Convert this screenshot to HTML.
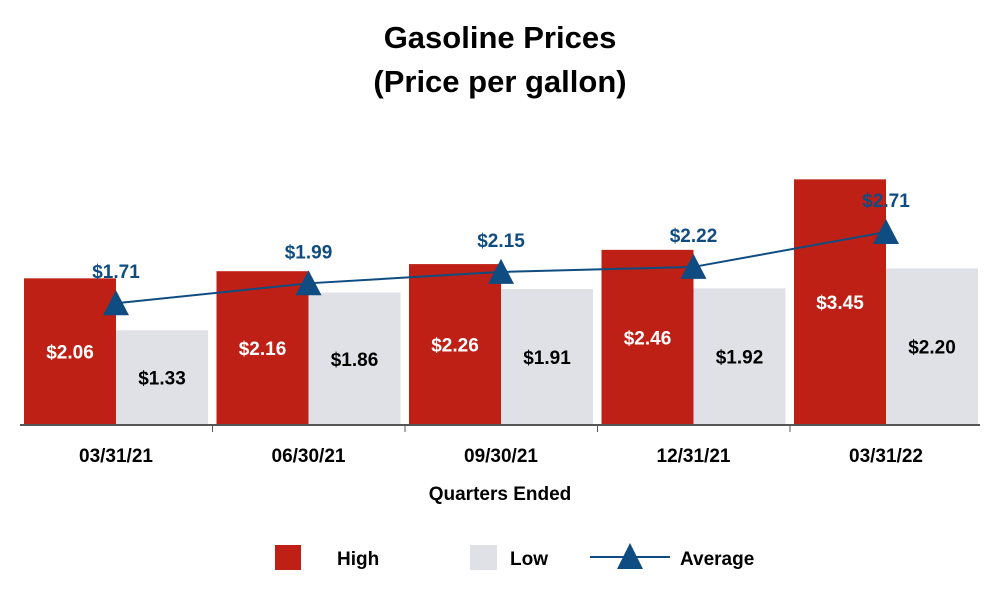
<!DOCTYPE html>
<html><head><meta charset="utf-8"><style>
body{margin:0;background:#fff;font-family:"Liberation Sans",sans-serif}
</style></head><body>
<svg id="c" width="1000" height="600" font-family="Liberation Sans, sans-serif" font-weight="bold">
<text x="500" y="48" text-anchor="middle" font-size="31">Gasoline Prices</text>
<text x="500" y="92" text-anchor="middle" font-size="31">(Price per gallon)</text>
<g id="bars"></g>
<line x1="20" y1="425" x2="980" y2="425" stroke="#555" stroke-width="2"/>
<text x="500" y="500" text-anchor="middle" font-size="19">Quarters Ended</text>
<g>
<rect x="275" y="545" width="26" height="25" fill="#be2016"/>
<text x="337" y="565" font-size="19">High</text>
<rect x="470" y="545" width="27" height="25" fill="#e0e1e6"/>
<text x="510" y="565" font-size="19">Low</text>
<line x1="590" y1="557" x2="670" y2="557" stroke="#0f4c81" stroke-width="2"/>
<polygon points="630,543 643,569 617,569" fill="#0f4c81"/>
<text x="680" y="565" font-size="19">Average</text>
</g>
</svg>
<script>
const categories=["03/31/21","06/30/21","09/30/21","12/31/21","03/31/22"];
const highValues=[2.06,2.16,2.26,2.46,3.45];
const lowValues=[1.33,1.86,1.91,1.92,2.20];
const avgValues=[1.71,1.99,2.15,2.22,2.71];
const NS="http://www.w3.org/2000/svg";
const g=document.getElementById('bars');
const base=425,scale=71.2,x0=24,groupW=192.5,barW=92;
const y=v=>base-v*scale;
const gx=i=>x0+i*groupW;
function mk(tag,attrs,txt){const e=document.createElementNS(NS,tag);for(const k in attrs)e.setAttribute(k,attrs[k]);if(txt!==undefined)e.textContent=txt;g.appendChild(e);return e;}
categories.forEach((c,i)=>{
 const hx=gx(i);
 let e=mk('rect',{x:hx,y:y(highValues[i]),width:barW,height:highValues[i]*scale,fill:'#be2016'});
 
 
 e=mk('rect',{x:hx+barW,y:y(lowValues[i]),width:barW,height:lowValues[i]*scale,fill:'#e0e1e6'});
 
 
 e=mk('text',{x:hx+barW/2,y:(y(highValues[i])+base)/2+7,'text-anchor':'middle','font-size':19,fill:'#fff'},'$'+highValues[i].toFixed(2));
 
 
 e=mk('text',{x:hx+barW*1.5,y:(y(lowValues[i])+base)/2+7,'text-anchor':'middle','font-size':19,fill:'#000'},'$'+lowValues[i].toFixed(2));
 
 
 e=mk('text',{x:hx+barW,y:462,'text-anchor':'middle','font-size':19},c);
 
 
 if(i>0){e=mk('line',{x1:hx-4,y1:425,x2:hx-4,y2:432,stroke:'#555','stroke-width':1});
 
 }
});
const pts=avgValues.map((v,i)=>[gx(i)+barW,y(v)]);
let pl=mk('polyline',{points:pts.map(p=>p.join(',')).join(' '),fill:'none',stroke:'#0f4c81','stroke-width':2});


pts.forEach((p,i)=>{
 let e=mk('polygon',{points:`${p[0]},${p[1]-13} ${p[0]+13},${p[1]+12} ${p[0]-13},${p[1]+12}`,fill:'#0f4c81'});
 
 
 e=mk('text',{x:p[0],y:p[1]-25,'text-anchor':'middle','font-size':19,fill:'#0f4c81'},'$'+avgValues[i].toFixed(2));
 
 
});
</script>
</body></html>
